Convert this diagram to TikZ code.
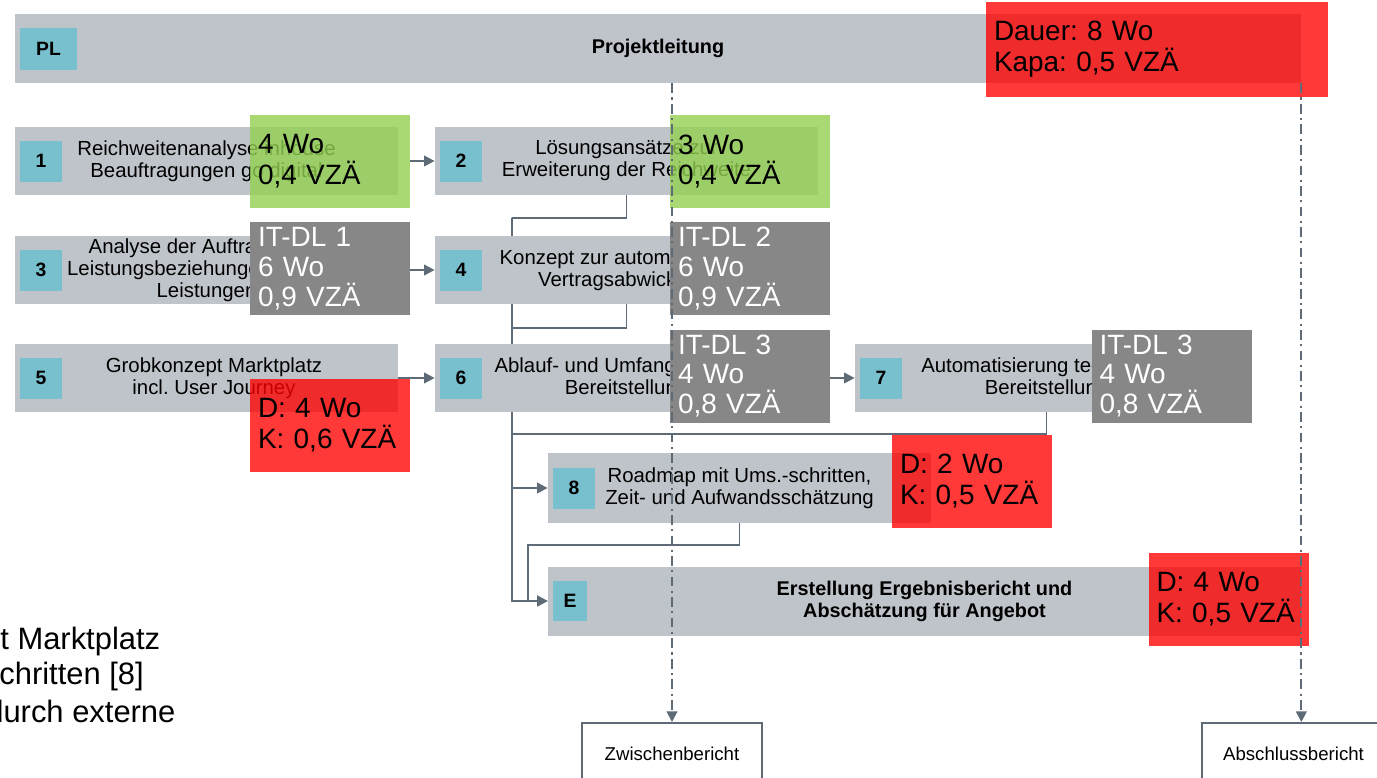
\documentclass[tikz,border=0pt]{standalone}
\usepackage{fontspec}
\setmainfont{Liberation Sans}
\frenchspacing
\usetikzlibrary{arrows.meta,positioning,backgrounds}
\definecolor{boxgray}{HTML}{BFC4CA}
\definecolor{numteal}{HTML}{79C0CF}
\definecolor{linegray}{HTML}{5E6A75}
\definecolor{itgray}{HTML}{878787}
\definecolor{kapagreen}{HTML}{92D050}
\definecolor{kapared}{HTML}{FF0000}
\tikzset{
  task/.style={fill=boxgray, inner sep=0pt, minimum width=383*0.02cm, minimum height=68*0.02cm,
    align=center, font=\fontsize{11.6}{12.5}\selectfont},
  num/.style={fill=numteal, inner sep=0pt, minimum width=42*0.02cm, minimum height=41*0.02cm,
    font=\bfseries\fontsize{11}{12}\selectfont},
  kapa/.style={inner xsep=8*0.02cm, inner ysep=0pt, minimum height=93*0.02cm, text width=144*0.02cm,
    align=left, font=\fontsize{15.9}{17.6}\selectfont},
  kgreen/.style={kapa, fill=kapagreen, fill opacity=0.8, text opacity=1},
  kred/.style={kapa, fill=kapared, fill opacity=0.78, text opacity=1},
  kit/.style={kapa, fill=itgray, text=white, font=\fontsize{15.9}{17}\selectfont},
  conn/.style={draw=linegray, line width=1.1pt},
  milestone/.style={conn, ->, dash pattern=on 5.5pt off 2.5pt on 1.2pt off 2.5pt},
  report/.style={draw=linegray, line width=1.1pt, fill=white, minimum width=180*0.02cm,
    minimum height=62*0.02cm, anchor=north, font=\fontsize{10.6}{12}\selectfont},
  sidetext/.style={anchor=west, inner sep=0pt, font=\fontsize{17.6}{20}\selectfont}
}
\begin{document}
\begin{tikzpicture}[x=0.02cm, y=-0.02cm, >={Triangle[length=6pt,width=6pt]}]
    \useasboundingbox (0,0) rectangle (1377,778);
    % Arbeitspakete
    \node[task, minimum width=1286*0.02cm, minimum height=69*0.02cm, font=\bfseries\fontsize{11.3}{12}\selectfont] (PL) at (658,48.5) {Projektleitung};
    \node[num, minimum width=57*0.02cm, minimum height=42*0.02cm, right=0.1cm of PL.west] (nPL) {PL};
    \node[task] (b1) at (206.5,161) {Reichweitenanalyse inhouse\\Beauftragungen go digital};
    \node[num, right=0.1cm of b1.west] (n1) {1};
    \node[task] (b2) at (626.5,161) {Lösungsansätze zur\\Erweiterung der Reichweite};
    \node[num, right=0.1cm of b2.west] (n2) {2};
    \node[task] (b3) at (206.5,270) {Analyse der Auftrags- und\\Leistungsbeziehungen und der\\Leistungen};
    \node[num, right=0.1cm of b3.west] (n3) {3};
    \node[task] (b4) at (626.5,270) {Konzept zur automatisierten\\Vertragsabwicklung};
    \node[num, right=0.1cm of b4.west] (n4) {4};
    \node[task] (b5) at (206.5,378) {\hspace*{0.3cm}Grobkonzept Marktplatz\\\hspace*{0.3cm}incl. User Journey};
    \node[num, right=0.1cm of b5.west] (n5) {5};
    \node[task] (b6) at (626.5,378) {Ablauf- und Umfangsplanung\\Bereitstellung};
    \node[num, right=0.1cm of b6.west] (n6) {6};
    \node[task] (b7) at (1046.5,378) {Automatisierung technische\\Bereitstellung};
    \node[num, right=0.1cm of b7.west] (n7) {7};
    \node[task, minimum height=70*0.02cm] (b8) at (739.5,488) {Roadmap mit Ums.-schritten,\\Zeit- und Aufwandsschätzung};
    \node[num, right=0.1cm of b8.west] (n8) {8};
    \node[task, minimum width=753*0.02cm, minimum height=69*0.02cm, font=\bfseries\fontsize{11.3}{12.5}\selectfont] (bE) at (924.5,601) {Erstellung Ergebnisbericht und\\Abschätzung für Angebot};
    \node[num, minimum width=34*0.02cm, minimum height=40*0.02cm, right=0.1cm of bE.west] (nE) {E};
    % Dauer und Kapazitaet
    \node[kred, text width=326*0.02cm, minimum height=95*0.02cm] (rPL) at (1157,49) {Dauer: 8 Wo\\Kapa: 0,5 VZÄ};
    \node[kgreen] (g1) at (330,161.5) {4 Wo\\0,4 VZÄ};
    \node[kgreen] (g2) at (750,161.5) {3 Wo\\0,4 VZÄ};
    \node[kit] (i1) at (330,268.5) {IT-DL 1\\6 Wo\\0,9 VZÄ};
    \node[kit] (i2) at (750,268.5) {IT-DL 2\\6 Wo\\0,9 VZÄ};
    \node[kit] (i3) at (750,376) {IT-DL 3\\4 Wo\\0,8 VZÄ};
    \node[kit] (i4) at (1171.5,376) {IT-DL 3\\4 Wo\\0,8 VZÄ};
    \node[kred] (r5) at (330,425) {D: 4 Wo\\K: 0,6 VZÄ};
    \node[kred] (r8) at (972,481) {D: 2 Wo\\K: 0,5 VZÄ};
    \node[kred] (rE) at (1228.5,599.5) {D: 4 Wo\\K: 0,5 VZÄ};
    % Berichte
    \node[report] (zb) at (672,722) {Zwischenbericht};
    \node[report, minimum width=183*0.02cm] (ab) at (1293.5,722) {Abschlussbericht};
    \node[sidetext] (s1) at (0,641) {t Marktplatz};
    \node[sidetext] (s2) at (-1,676) {chritten [8]};
    \node[sidetext] (s3) at (-14,711) {durch externe};
    % Abhaengigkeiten
    \begin{scope}[on background layer]
        \coordinate (bus) at (512,218);
        \draw[conn] (b2.south) -- ++(0,23) -| (bus);
        \draw[conn, ->] (bus) |- (bE.west);
        \draw[conn] (b4.south) -- ++(0,24) -| (bus);
        \draw[conn] (b7.south) -- ++(0,22) -| (bus);
        \draw[conn, ->] (bus |- b8.west) -- (b8.west);
        \draw[conn, ->] (b8.south) -- ++(0,22) -| ([xshift=-0.4cm]bE.west) -- (bE.west);
        \draw[conn, ->] (b5.east) -- (b6.west);
    \end{scope}
    \draw[conn, ->] (g1.east |- b2.west) -- (b2.west);
    \draw[conn, ->] (i1.east |- b4.west) -- (b4.west);
    \draw[conn, ->] (i3.east |- b7.west) -- (b7.west);
    \draw[milestone] (PL.south -| zb.north) -- (zb.north);
    \draw[milestone] (PL.south east) -- (PL.south east |- ab.north);
\end{tikzpicture}
\end{document}
